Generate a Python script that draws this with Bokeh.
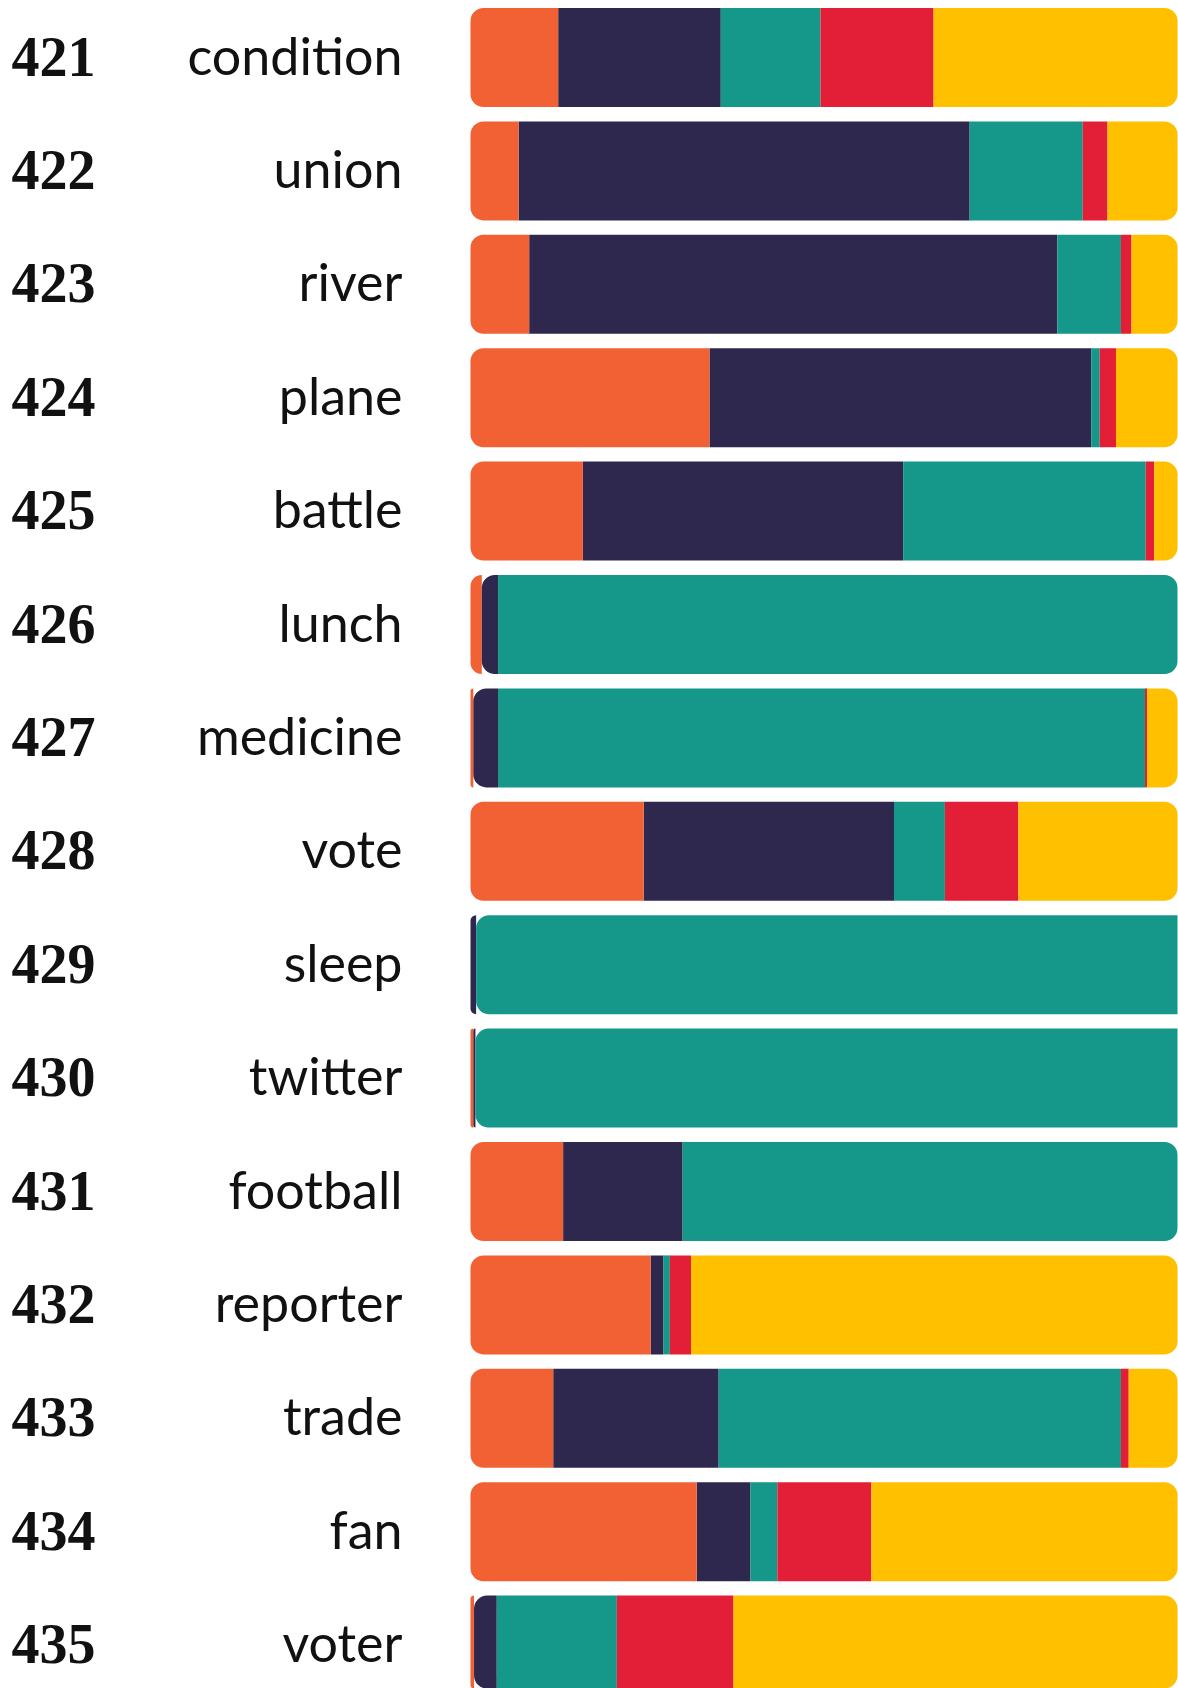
from bokeh.plotting import figure
from bokeh.models import ColumnDataSource, Range1d
from bokeh.embed import file_html
from bokeh.resources import INLINE
from bokeh.core.properties import value

# ---------------- data ----------------
ids = ["421", "422", "423", "424", "425", "426", "427", "428",
       "429", "430", "431", "432", "433", "434", "435"]
words = ["condition", "union", "river", "plane", "battle", "lunch", "medicine",
         "vote", "sleep", "twitter", "football", "reporter", "trade", "fan", "voter"]

orange = [0.124, 0.068, 0.083, 0.338, 0.159, 0.016, 0.004, 0.245, 0.000, 0.004, 0.131, 0.255, 0.117, 0.320, 0.005]
navy   = [0.230, 0.638, 0.747, 0.540, 0.453, 0.023, 0.035, 0.354, 0.008, 0.003, 0.169, 0.018, 0.234, 0.076, 0.032]
teal   = [0.141, 0.160, 0.090, 0.012, 0.343, 0.961, 0.915, 0.072, 0.992, 0.993, 0.700, 0.009, 0.569, 0.038, 0.170]
red    = [0.160, 0.035, 0.015, 0.023, 0.012, 0.000, 0.003, 0.104, 0.000, 0.000, 0.000, 0.030, 0.011, 0.133, 0.165]
yellow = [0.345, 0.099, 0.065, 0.087, 0.033, 0.000, 0.043, 0.225, 0.000, 0.000, 0.000, 0.688, 0.069, 0.433, 0.628]

series = [orange, navy, teal, red, yellow]
colors = ["#F26134", "#2E284E", "#159789", "#E31F37", "#FFC000"]

# ---------------- layout ----------------
W, H = 1178, 1688
PX_PER_UNIT = 707.0        # bar length in pixels
BAR_LEFT_PX = 470.0        # bar left edge (figure px)
ROW_PX = 113.4             # row pitch
FIRST_CENTER_PX = 57.0     # first row centre (figure px)
BAR_H = 99.0 / ROW_PX
RADIUS = 13

x_start = -BAR_LEFT_PX / PX_PER_UNIT
x_end = (W - BAR_LEFT_PX) / PX_PER_UNIT
y_top = -FIRST_CENTER_PX / ROW_PX
y_bottom = (H - FIRST_CENTER_PX) / ROW_PX

p = figure(width=W, height=H, output_backend="svg", toolbar_location=None,
           x_range=Range1d(x_start, x_end), y_range=Range1d(y_bottom, y_top),
           x_axis_location=None, y_axis_location=None, min_border=0,
           background_fill_color="white", border_fill_color="white")
p.outline_line_color = None
p.grid.visible = False

r_frac = RADIUS / PX_PER_UNIT
groups = {"left": dict(y=[], l=[], r=[], c=[]),
          "right": dict(y=[], l=[], r=[], c=[]),
          "mid": dict(y=[], l=[], r=[], c=[])}
for i in range(len(ids)):
    vals = [s[i] for s in series]
    tot = sum(vals)
    acc = 0.0
    for v, col in zip(vals, colors):
        if v <= 0:
            continue
        l = acc / tot
        acc += v
        r = acc / tot
        if l < r_frac:
            g = "left"
        elif r > 1 - r_frac:
            g = "right"
        else:
            g = "mid"
        groups[g]["y"].append(i)
        groups[g]["l"].append(l)
        groups[g]["r"].append(r)
        groups[g]["c"].append(col)

radii = {"left": (RADIUS, 0, 0, RADIUS), "right": (0, RADIUS, RADIUS, 0), "mid": 0}
for g in ["mid", "left", "right"]:
    src = ColumnDataSource(groups[g])
    p.hbar(y="y", left="l", right="r", height=BAR_H, fill_color="c",
           line_color=None, source=src, border_radius=radii[g])

rows = list(range(len(ids)))
num_x = (11 - BAR_LEFT_PX) / PX_PER_UNIT
word_x = (402 - BAR_LEFT_PX) / PX_PER_UNIT
src_t = ColumnDataSource(dict(y=rows, ids=ids, words=words,
                              nx=[num_x] * len(ids), wx=[word_x] * len(ids)))
p.text(x="nx", y="y", text="ids", source=src_t, text_font=value("Liberation Serif"),
       text_font_style="bold", text_font_size="56px", text_color="#111111",
       text_align="left", text_baseline="alphabetic", y_offset=-1)
p.text(x="wx", y="y", text="words", source=src_t, text_font=value("Lato"),
       text_font_size="52px", text_color="#111111",
       text_align="right", text_baseline="alphabetic", y_offset=-3)

open("out.html", "w").write(file_html(p, INLINE))
